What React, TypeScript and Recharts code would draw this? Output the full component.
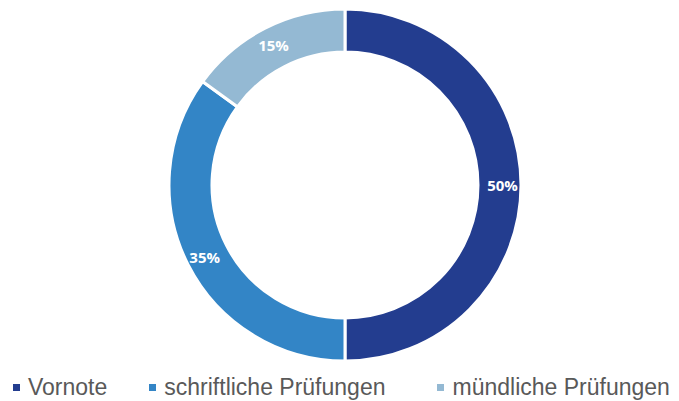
import React from 'react';
import { PieChart, Pie, Cell, Legend } from 'recharts';

const CATEGORIES = ['Vornote', 'schriftliche Prüfungen', 'mündliche Prüfungen'];
const SHARES = [50, 35, 15];
const COLORS = ['#233D8F', '#3385C6', '#94B9D3'];

const data = CATEGORIES.map((name, i) => ({ name, value: SHARES[i] }));

const RAD = Math.PI / 180;

function renderLabel(props: any) {
  const { cx, cy, midAngle, innerRadius, outerRadius, value } = props;
  const r = (innerRadius + outerRadius) / 2 + 3;
  const x = cx + r * Math.cos(-midAngle * RAD);
  const y = cy + r * Math.sin(-midAngle * RAD);
  return (
    <text
      x={x}
      y={y}
      fill="#ffffff"
      textAnchor="middle"
      dominantBaseline="central"
      style={{ fontFamily: '"Open Sans", sans-serif', fontWeight: 700, fontSize: 15 }}
    >
      {`${value}%`}
    </text>
  );
}

// legend drawn in data order, not the payload's order
function renderLegend() {
  return (
    <div style={{ display: 'flex', alignItems: 'center', paddingLeft: 13, whiteSpace: 'nowrap' }}>
      {CATEGORIES.map((name, i) => (
        <div key={`leg-${i}`} style={{ display: 'flex', alignItems: 'center', marginRight: i === 0 ? 42 : 52 }}>
          <span style={{ width: 7, height: 7, background: COLORS[i], display: 'inline-block', marginRight: 8 }} />
          <span style={{ fontFamily: '"Liberation Sans", Arial, sans-serif', fontSize: 23, color: '#595959', lineHeight: '26px' }}>
            {name}
          </span>
        </div>
      ))}
    </div>
  );
}

export default function App() {
  return (
    <div style={{ width: 679, height: 401, background: '#ffffff', position: 'relative' }}>
      <style>{'body{margin:0;}'}</style>
      <PieChart width={679} height={401} margin={{ top: 0, right: 0, bottom: 0, left: 0 }}>
        <Pie
          data={data}
          dataKey="value"
          nameKey="name"
          cx={345}
          cy={185}
          innerRadius={133}
          outerRadius={176}
          startAngle={90}
          endAngle={-270}
          stroke="#ffffff"
          strokeWidth={3}
          label={renderLabel}
          labelLine={false}
          isAnimationActive={false}
        >
          {data.map((entry, index) => (
            <Cell key={`cell-${index}`} fill={COLORS[index]} />
          ))}
        </Pie>
        <Legend
          content={renderLegend}
          wrapperStyle={{ position: 'absolute', left: 0, top: 374, width: 679 }}
        />
      </PieChart>
    </div>
  );
}
